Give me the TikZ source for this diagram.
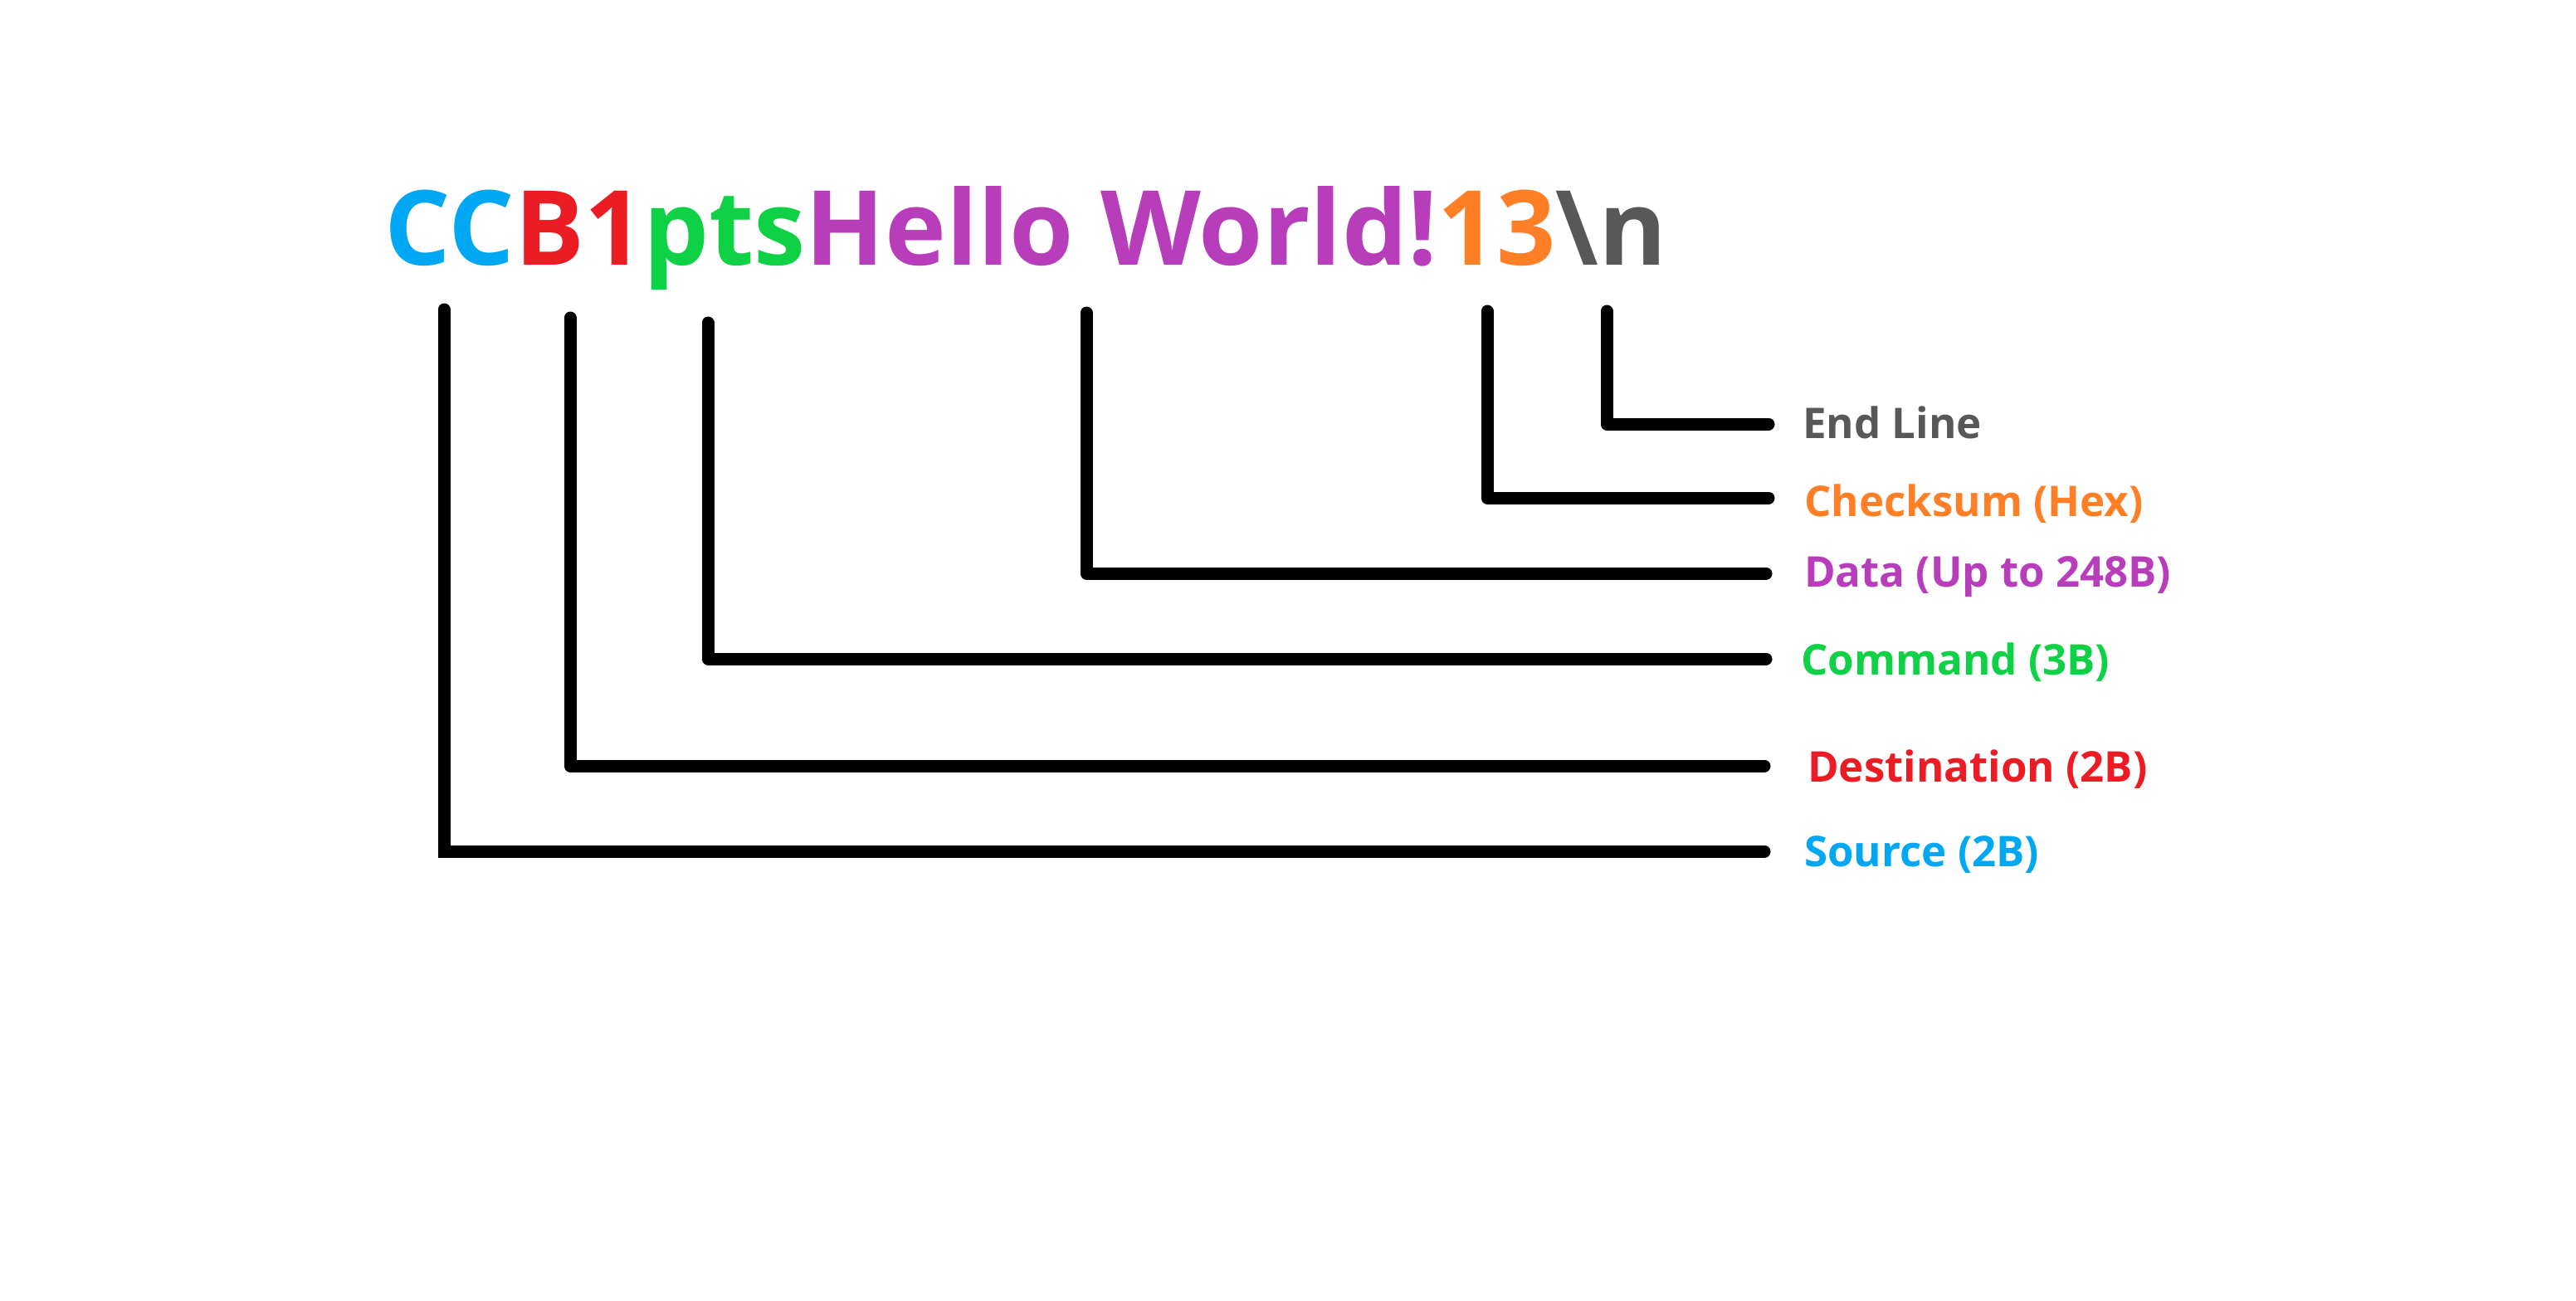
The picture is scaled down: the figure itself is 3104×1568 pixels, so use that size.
\documentclass[tikz,border=0pt]{standalone}
\usepackage{fontspec}
\setmainfont{Open Sans}
\definecolor{cblue}{RGB}{0,168,243}
\definecolor{cred}{RGB}{236,28,36}
\definecolor{cgreen}{RGB}{14,209,69}
\definecolor{cpurple}{RGB}{184,61,186}
\definecolor{corange}{RGB}{255,127,39}
\definecolor{cgray}{RGB}{88,88,88}
\begin{document}
\begin{tikzpicture}[x=1pt,y=-1pt,
  conn/.style={line width=15pt,line cap=round,line join=round,black},
  lab/.style={anchor=base west,inner sep=0pt,font=\fontsize{51}{60}\selectfont\bfseries},
  ttl/.style={anchor=base west,inner sep=0pt,font=\fontsize{125}{150}\selectfont\bfseries}]
\useasboundingbox[fill=white] (0,0) rectangle (3104,1568);
\node[ttl] (title) at (463,319) {{\color{cblue}CC}{\color{cred}B1}{\color{cgreen}pts}{\color{cpurple}Hello World!}{\color{corange}13}{\color{cgray}\textbackslash n}};
\node[lab,text=cgray] (lend) at (2172,528) {End Line};
\node[lab,text=corange] (lchk) at (2174,622) {Checksum (Hex)};
\node[lab,text=cpurple] (ldat) at (2174,707) {Data (Up to 248B)};
\node[lab,text=cgreen] (lcmd) at (2170,813) {Command (3B)};
\node[lab,text=cred] (ldst) at (2178,942) {Destination (2B)};
\node[lab,text=cblue] (lsrc) at (2174,1044) {Source (2B)};
\coordinate (tsrc) at (535,373);  \coordinate (esrc) at (2126,1026);
\coordinate (tdst) at (687,383);  \coordinate (edst) at (2126,923);
\coordinate (tcmd) at (853,389);  \coordinate (ecmd) at (2128,794);
\coordinate (tdat) at (1309,377); \coordinate (edat) at (2128,691);
\coordinate (tchk) at (1792,375); \coordinate (echk) at (2131,600);
\coordinate (tend) at (1936,375); \coordinate (eend) at (2131,511);
\draw[conn,line join=miter] (tsrc) |- (esrc);
\draw[conn] (tdst) |- (edst);
\draw[conn] (tcmd) |- (ecmd);
\draw[conn] (tdat) |- (edat);
\draw[conn] (tchk) |- (echk);
\draw[conn] (tend) |- (eend);
\end{tikzpicture}
\end{document}
